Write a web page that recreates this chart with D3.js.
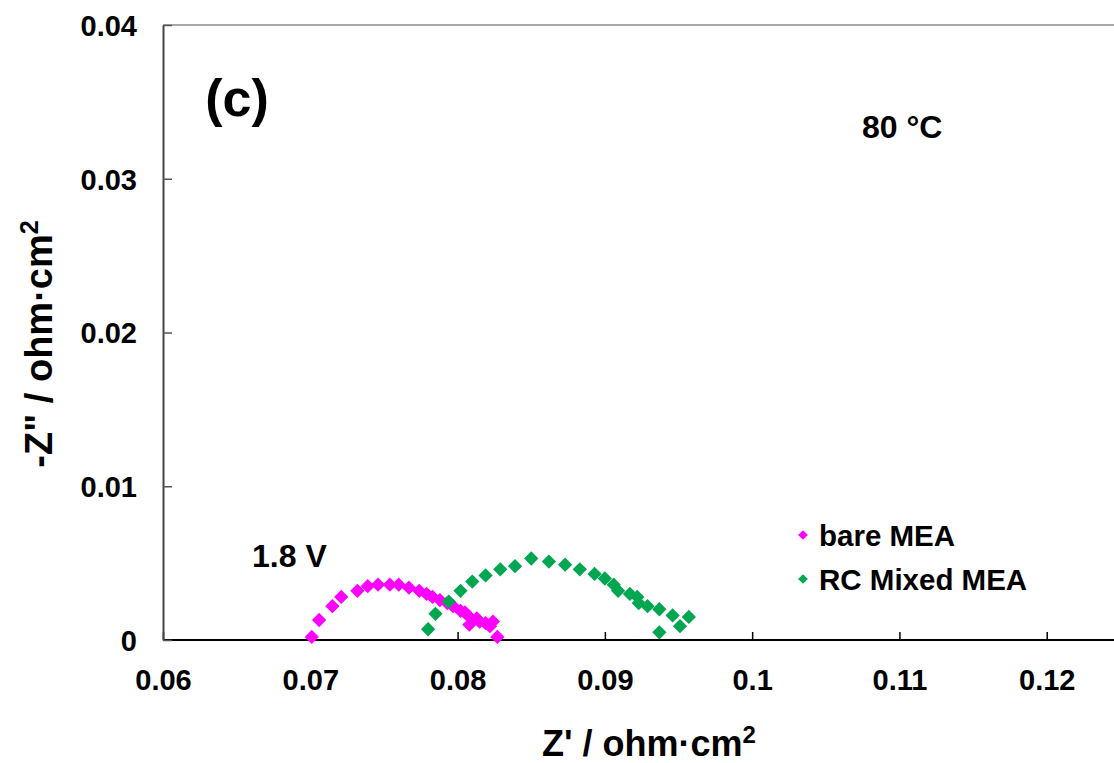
<!DOCTYPE html>
<html>
<head>
<meta charset="utf-8">
<script src="https://cdnjs.cloudflare.com/ajax/libs/d3/7.8.5/d3.min.js"></script>
<style>
  html, body { margin: 0; padding: 0; background: #fff; }
  svg text { font-family: Arial, "Liberation Sans", sans-serif; font-weight: bold; fill: #000; }
</style>
</head>
<body>
<div id="chart"></div>
<script>
// Nyquist data, 80 °C, 1.8 V
const bareX = [0.0701, 0.0706, 0.0715, 0.0721, 0.0732, 0.0739, 0.0746, 0.0754, 0.0760, 0.0767,
  0.0774, 0.0779, 0.0783, 0.0788, 0.0793, 0.0797, 0.0802, 0.0805, 0.0807, 0.0808,
  0.0813, 0.0815, 0.0819, 0.0822, 0.0824, 0.0827];
const bareY = [0.0002, 0.0013, 0.0022, 0.0028, 0.0032, 0.0035, 0.0036, 0.0036, 0.0036, 0.0034,
  0.0032, 0.0030, 0.0028, 0.0026, 0.0024, 0.0022, 0.0019, 0.0018, 0.0016, 0.0010,
  0.0014, 0.0012, 0.0011, 0.0009, 0.0012, 0.0002];

const rcX = [0.0780, 0.0785, 0.0794, 0.0802, 0.0810, 0.0819, 0.0829, 0.0839, 0.0850, 0.0862,
  0.0873, 0.0883, 0.0893, 0.0900, 0.0906, 0.0909, 0.0917, 0.0922, 0.0923, 0.0929,
  0.0937, 0.0937, 0.0946, 0.0951, 0.0957];
const rcY = [0.0007, 0.0017, 0.0025, 0.0032, 0.0038, 0.0042, 0.0046, 0.0048, 0.0053, 0.0051,
  0.0049, 0.0046, 0.0043, 0.0040, 0.0036, 0.0032, 0.0030, 0.0028, 0.0024, 0.0022,
  0.0020, 0.0005, 0.0016, 0.0009, 0.0015];

const xTicks = [0.06, 0.07, 0.08, 0.09, 0.1, 0.11, 0.12];
const yTicks = [0, 0.01, 0.02, 0.03, 0.04];

const series = [
  { name: 'bare MEA', color: '#ff00ff', xs: bareX, ys: bareY },
  { name: 'RC Mixed MEA', color: '#00a650', xs: rcX, ys: rcY }
];

const W = 1114, H = 763;
const svg = d3.select('#chart').append('svg').attr('width', W).attr('height', H);

const x = d3.scaleLinear().domain([0.06, 0.1245]).range([163, 1113]);
const y = d3.scaleLinear().domain([0, 0.04]).range([640, 25]);

// frame: top + left + bottom (plot runs off the right edge)
svg.append('line').attr('x1', x(0.06)).attr('x2', W).attr('y1', y(0.04)).attr('y2', y(0.04))
  .attr('stroke', '#8a8a8a').attr('stroke-width', 1.5);

const tickFont = sel => sel.style('font-size', '29px')
  .style('font-family', 'Arial, "Liberation Sans", sans-serif')
  .style('font-weight', 'bold').attr('fill', '#000');

const xAxis = svg.append('g').attr('transform', `translate(0,${y(0)})`)
  .call(d3.axisBottom(x).tickValues(xTicks).tickSizeInner(-8).tickSizeOuter(0)
    .tickFormat(d => d3.format('~g')(d)));
xAxis.select('.domain').attr('stroke', '#000').attr('stroke-width', 2)
  .attr('d', `M${x(0.06)},0H${W}`);
xAxis.selectAll('.tick line').attr('stroke', '#000').attr('stroke-width', 1.5);
xAxis.selectAll('.tick text').attr('y', 50).attr('dy', 0).call(tickFont);

const yAxis = svg.append('g').attr('transform', `translate(${x(0.06)},0)`)
  .call(d3.axisLeft(y).tickValues(yTicks).tickSizeInner(-9).tickSizeOuter(0)
    .tickFormat(d => d3.format('~g')(d)));
yAxis.select('.domain').attr('stroke', '#444').attr('stroke-width', 2);
yAxis.selectAll('.tick line').attr('stroke', '#555').attr('stroke-width', 1.5);
yAxis.selectAll('.tick text').attr('x', -26).attr('dy', '0.36em').call(tickFont);

// data points (diamonds)
const diamond = d3.symbol().type(d3.symbolDiamond2 || d3.symbolDiamond).size(130);
series.forEach(s => {
  const pts = s.xs.map((v, i) => [v, s.ys[i]]);
  svg.append('g').selectAll('path').data(pts).join('path')
    .attr('d', diamond)
    .attr('transform', d => `translate(${x(d[0])},${y(d[1])})`)
    .attr('fill', s.color);
});

// legend
const legend = svg.append('g').attr('transform', 'translate(803,535)');
series.forEach((s, i) => {
  const g = legend.append('g').attr('transform', `translate(0,${i * 44})`);
  g.append('path').attr('d', d3.symbol().type(d3.symbolDiamond2 || d3.symbolDiamond).size(60)).attr('fill', s.color);
  g.append('text').attr('x', 16).attr('dy', '0.36em').style('font-size', '29.5px').text(s.name);
});

// annotations
svg.append('text').attr('x', 237).attr('y', 116).attr('text-anchor', 'middle')
  .style('font-size', '52px').text('(c)');
svg.append('text').attr('x', 862).attr('y', 138).style('font-size', '32px').text('80 °C');
svg.append('text').attr('x', 252).attr('y', 567).style('font-size', '32px').text('1.8 V');

// axis titles
const xt = svg.append('text').attr('x', 649).attr('y', 756).attr('text-anchor', 'middle')
  .style('font-size', '36px');
xt.append('tspan').text("Z' / ohm·cm");
xt.append('tspan').attr('dy', -13).style('font-size', '24px').text('2');

const yt = svg.append('text').attr('transform', 'translate(52,344) rotate(-90)')
  .attr('text-anchor', 'middle').style('font-size', '38px');
yt.append('tspan').text('-Z" / ohm·cm');
yt.append('tspan').attr('dy', -14).style('font-size', '25px').text('2');
</script>
</body>
</html>
